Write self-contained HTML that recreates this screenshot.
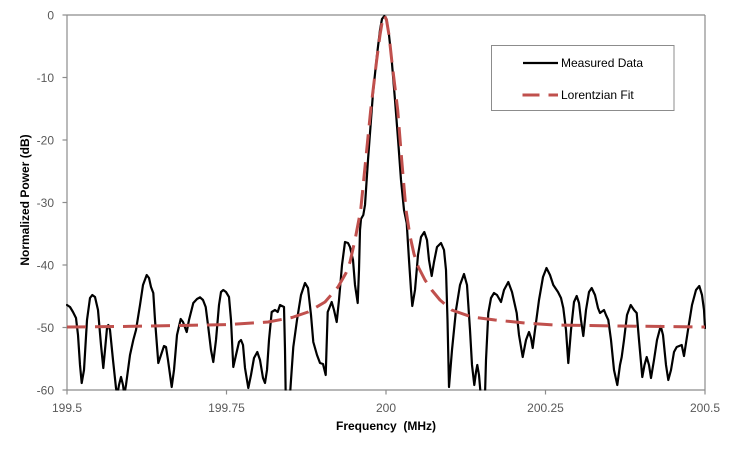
<!DOCTYPE html>
<html>
<head>
<meta charset="utf-8">
<style>
  html,body{margin:0;padding:0;background:#fff;}
  svg{display:block;}
  text{font-family:"Liberation Sans", Arial, sans-serif;}
</style>
</head>
<body>
<svg width="732" height="452" viewBox="0 0 732 452" xmlns="http://www.w3.org/2000/svg">
  <defs>
    <clipPath id="plot"><rect x="66" y="14" width="640" height="376.5"/></clipPath>
  </defs>
  <rect width="732" height="452" fill="#fff"/>

  <!-- plot area border -->
  <line x1="67" y1="15" x2="705" y2="15" stroke="#8c8c8c" stroke-width="1.2"/>
  <line x1="705" y1="15" x2="705" y2="390" stroke="#8c8c8c" stroke-width="1.2"/>
  <line x1="67" y1="15" x2="67" y2="390" stroke="#8c8c8c" stroke-width="1.2"/>
  <line x1="67" y1="390" x2="705" y2="390" stroke="#8c8c8c" stroke-width="1.2"/>

  <!-- y ticks -->
  <g stroke="#8c8c8c" stroke-width="1.2">
    <line x1="62.5" y1="15" x2="67" y2="15"/>
    <line x1="62.5" y1="77.5" x2="67" y2="77.5"/>
    <line x1="62.5" y1="140" x2="67" y2="140"/>
    <line x1="62.5" y1="202.5" x2="67" y2="202.5"/>
    <line x1="62.5" y1="265" x2="67" y2="265"/>
    <line x1="62.5" y1="327.5" x2="67" y2="327.5"/>
    <line x1="62.5" y1="390" x2="67" y2="390"/>
    <line x1="67" y1="390" x2="67" y2="394.5"/>
    <line x1="226.5" y1="390" x2="226.5" y2="394.5"/>
    <line x1="386" y1="390" x2="386" y2="394.5"/>
    <line x1="545.5" y1="390" x2="545.5" y2="394.5"/>
    <line x1="705" y1="390" x2="705" y2="394.5"/>
  </g>

  <!-- y labels -->
  <g font-size="12" fill="#595959" text-anchor="end">
    <text x="54" y="19.5">0</text>
    <text x="54" y="82">-10</text>
    <text x="54" y="144.5">-20</text>
    <text x="54" y="207">-30</text>
    <text x="54" y="269.5">-40</text>
    <text x="54" y="332">-50</text>
    <text x="54" y="394.5">-60</text>
  </g>
  <!-- x labels -->
  <g font-size="12" fill="#595959" text-anchor="middle">
    <text x="67" y="412">199.5</text>
    <text x="226.5" y="412">199.75</text>
    <text x="386" y="412">200</text>
    <text x="545.5" y="412">200.25</text>
    <text x="705" y="412">200.5</text>
  </g>

  <!-- axis titles -->
  <text x="386" y="430" font-size="12" font-weight="bold" fill="#000" text-anchor="middle" xml:space="preserve">Frequency  (MHz)</text>
  <text transform="translate(29,200) rotate(-90)" font-size="12" font-weight="bold" fill="#000" text-anchor="middle">Normalized Power (dB)</text>

  <!-- measured data -->
  <g clip-path="url(#plot)">
    <polyline fill="none" stroke="#000" stroke-width="2.2" stroke-linejoin="round" stroke-linecap="round"
      points="67,305 70,307 73,312 76,318 78,335 80,365 81.7,383 84,370 87,320 90,298 92.3,295 95,297 98,310 101,345 103.3,368 105,350 107,328 108.3,325 110,330 113,360 116,388 117.3,395 119,385 121,377 123,385 124.3,395 126,385 130,355 133.3,340 136,330 140,305 143,285 146.7,275 149,278 151,287 153.3,293 155,320 158.3,363 161,355 164,346 166,347 168,360 171.7,387 174,370 177,335 180.7,319 183,322 186.7,332 189,320 193.3,303 197,299 200,297.3 203,300 205.7,307 208,325 211,350 213.3,362 216,340 219,305 221,292 223.3,290 226,292 229,297 231,320 233.3,367 236,355 239,342 241,340 243,345 245,368 248.3,388 251,375 254,358 257.3,352 260,360 263,378 265,383 267,370 269,340 271.7,312 275,310 277.7,312 280,305 284,307 285,350 285.7,395 290,395 291,380 293.3,347 297,320 301,295 305,283 308,288 311,315 313.3,342 317,355 320,363 323,364 325.7,375 327.7,312 331.7,302 334,310 336.7,322 339,300 342,265 345,242 348,243 350,247 353,260 355,285 357.7,303 359,270 360,230 361,219 363.3,215 365,205 368,160 373,93 377,55 380,30 382,19 384.3,16 386.5,19 389,35 391.7,60 395,100 398.3,143 401,180 404,210 406.7,223 409,260 411,290 412.3,306 415,290 418,255 421,237 424.3,232 427,240 429,260 431.7,276 434,262 437,247 441,243 444,250 446,270 447.5,320 449,387 452,350 456,310 460,285 464,274 467,285 470,330 472,365 474.3,385 476,372 477.3,365 479,375 480.7,395 485,395 486,360 488.3,313 491,298 494,293 497,295 501,302 504,290 508.3,282 512,292 516.7,313 519,335 522.7,357 526,340 529,332 531,338 532.7,348 535,330 539,300 543,277 546.5,268 550,275 553.3,285 558,292 561,298 563.3,308 566,330 568.3,363 571,330 574,302 576.7,296 579,303 581,320 583.3,336 586,310 589,292 591.7,288 595,295 598,308 600,313 604,310 606,315 608.3,320 611,340 614,370 617.3,385 620,365 621.7,357 624,340 627,315 630.7,305 634,310 636.7,313 639,340 642.3,377 644.5,365 646.7,357 649,365 651,378 654,360 657,340 660.7,326 663,335 666,365 668.3,380 671,370 674,352 676.7,347 681.7,345 684,356 688,330 692,305 696,290 699.3,286 702,295 704,310 705,328"/>

    <!-- lorentzian fit -->
    <polyline fill="none" stroke="#c0504d" stroke-width="3" stroke-dasharray="19 9" stroke-linejoin="round"
      points="67,327 120,326.5 180,325.5 230,324.5 268,322 292,317.5 308,312 325,302 338,287 346,273 350,262 355,240 360.7,210 365.7,160 370.7,110 376.7,60 380,35 382.5,20 384.5,15.5 386.5,20 389,35 391.7,60 397.7,110 401.7,160 406,210 410,236 414,254 418.3,267 425,280 431.7,290 440,300 451.7,310 471.7,317 495,320 525,323 555,325 620,326 705,327"/>
  </g>

  <!-- legend -->
  <rect x="491.5" y="45.5" width="182.5" height="65" fill="#fff" stroke="#8c8c8c" stroke-width="1"/>
  <line x1="523" y1="63" x2="558" y2="63" stroke="#000" stroke-width="2.2"/>
  <line x1="522.5" y1="95" x2="558" y2="95" stroke="#c0504d" stroke-width="3" stroke-dasharray="17 9"/>
  <text x="561" y="67" font-size="12" fill="#000">Measured Data</text>
  <text x="561" y="99" font-size="12" fill="#000">Lorentzian Fit</text>
</svg>
</body>
</html>
